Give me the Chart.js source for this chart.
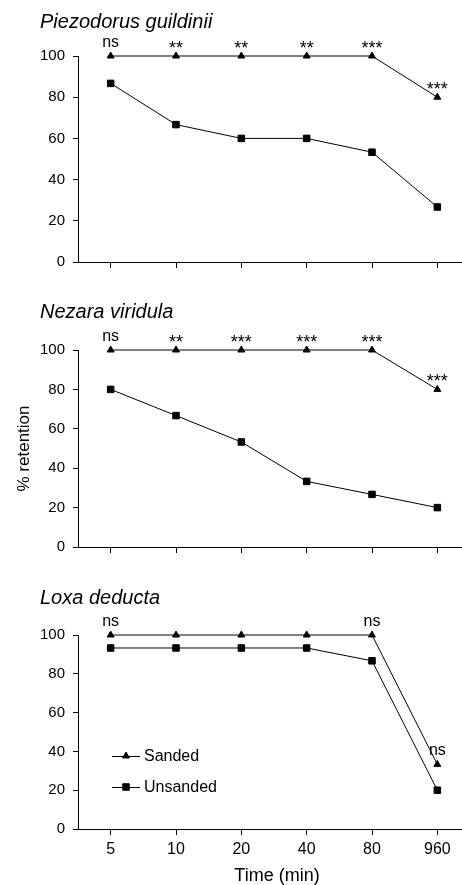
<!DOCTYPE html>
<html>
<head>
<meta charset="utf-8">
<script src="https://cdn.jsdelivr.net/npm/chart.js@4.4.1/dist/chart.umd.min.js"></script>
<style>
  html, body { margin: 0; padding: 0; background: #fff; overflow: hidden; width: 462px; height: 885px; }
  canvas { position: absolute; left: 0; }
</style>
</head>
<body>
<canvas id="c1" width="480" height="290" style="top:0px"></canvas>
<canvas id="c2" width="480" height="285" style="top:290px"></canvas>
<canvas id="c3" width="480" height="310" style="top:575px"></canvas>
<script>
// categories and ticks
const times = ['5', '10', '20', '40', '80', '960'];
const yTicks = [0, 20, 40, 60, 80, 100];
const seriesNames = ['Sanded', 'Unsanded'];

// Piezodorus guildinii
const piezSanded = [100, 100, 100, 100, 100, 80];
const piezUnsanded = [86.7, 66.7, 60, 60, 53.3, 26.7];
const piezSig = ['ns', '**', '**', '**', '***', '***'];

// Nezara viridula
const nezSanded = [100, 100, 100, 100, 100, 80];
const nezUnsanded = [80, 66.7, 53.3, 33.3, 26.7, 20];
const nezSig = ['ns', '**', '***', '***', '***', '***'];

// Loxa deducta
const loxaSanded = [100, 100, 100, 100, 100, 33.3];
const loxaUnsanded = [93.3, 93.3, 93.3, 93.3, 86.7, 20];
const loxaSig = ['ns', '', '', '', 'ns', 'ns'];

const FONT = '"Liberation Sans", Arial, sans-serif';

function textLayer(cfg) {
  return {
    id: 'textLayer',
    afterDraw(chart) {
      const ctx = chart.ctx;
      const xs = chart.scales.x, ys = chart.scales.y;
      ctx.save();
      ctx.fillStyle = '#000';

      // panel title
      ctx.font = 'italic 20px ' + FONT;
      ctx.textAlign = 'left';
      ctx.textBaseline = 'alphabetic';
      ctx.fillText(cfg.title, 40, cfg.titleY);

      // significance marks above the sanded points
      ctx.textAlign = 'center';
      cfg.sig.forEach((s, i) => {
        if (!s) return;
        const x = xs.getPixelForValue(i);
        const y = ys.getPixelForValue(cfg.sanded[i]);
        if (s[0] === '*') {
          ctx.font = '18px ' + FONT;
          ctx.fillText(s, x, y - 2);
        } else {
          ctx.font = '16px ' + FONT;
          ctx.fillText(s, x, y - 9.5);
        }
      });

      if (cfg.yTitle) {
        ctx.save();
        ctx.translate(24, (ys.top + ys.bottom) / 2);
        ctx.rotate(-Math.PI / 2);
        ctx.font = '17px ' + FONT;
        ctx.textBaseline = 'middle';
        ctx.fillText(cfg.yTitle, 0, 0);
        ctx.restore();
      }

      if (cfg.xTitle) {
        ctx.font = '18px ' + FONT;
        ctx.textBaseline = 'middle';
        ctx.fillText(cfg.xTitle, 277, cfg.xTitleY);
      }

      if (cfg.legend) {
        const sets = chart.data.datasets;
        sets.forEach((ds, k) => {
          const y = cfg.legend.y + k * 31;
          ctx.strokeStyle = '#000';
          ctx.lineWidth = 1;
          ctx.beginPath();
          ctx.moveTo(112, y + 0.5);
          ctx.lineTo(140, y + 0.5);
          ctx.stroke();
          if (Chart.helpers && Chart.helpers.drawPoint) {
            ctx.fillStyle = '#000';
            Chart.helpers.drawPoint(ctx, {
              pointStyle: ds.pointStyle, radius: ds.pointRadius, rotation: 0, borderWidth: 1
            }, 126, y);
          }
          ctx.fillStyle = '#000';
          ctx.font = '16px ' + FONT;
          ctx.textAlign = 'left';
          ctx.textBaseline = 'middle';
          ctx.fillText(ds.label, 144, y + 1);
        });
      }
      ctx.restore();
    }
  };
}

function panel(id, top, bottom, sanded, unsanded, cfg) {
  const canvas = document.getElementById(id);
  const H = canvas.height;
  cfg.sanded = sanded;
  return new Chart(canvas, {
    type: 'line',
    data: {
      labels: times,
      datasets: [
        {
          label: seriesNames[0], data: sanded, pointStyle: 'triangle', pointRadius: 4,
          borderColor: '#000', backgroundColor: '#000', borderWidth: 1,
          pointBackgroundColor: '#000', pointBorderColor: '#000', pointBorderWidth: 1, clip: false
        },
        {
          label: seriesNames[1], data: unsanded, pointStyle: 'rect', pointRadius: 4.6,
          borderColor: '#000', backgroundColor: '#000', borderWidth: 1,
          pointBackgroundColor: '#000', pointBorderColor: '#000', pointBorderWidth: 1, clip: false
        }
      ]
    },
    options: {
      responsive: false,
      animation: false,
      devicePixelRatio: 1,
      layout: { padding: { top: top, right: 10, left: 0, bottom: 0 } },
      plugins: { legend: { display: false }, tooltip: { enabled: false } },
      scales: {
        x: {
          offset: true,
          grid: { drawOnChartArea: false, tickLength: 6, color: '#000' },
          border: { color: '#000', width: 1 },
          ticks: {
            display: !!cfg.xLabels, color: '#000', font: { family: FONT, size: 16 },
            padding: 5, maxRotation: 0, autoSkip: false
          },
          afterFit: s => { s.height = H - bottom; }
        },
        y: {
          min: 0, max: 100,
          afterBuildTicks: s => { s.ticks = yTicks.map(v => ({ value: v })); },
          grid: { drawOnChartArea: false, tickLength: 5, color: '#000' },
          border: { color: '#000', width: 1 },
          ticks: { color: '#000', font: { family: FONT, size: 15 }, padding: 8 },
          afterFit: s => { s.width = 78; }
        }
      }
    },
    plugins: [textLayer(cfg)]
  });
}

panel('c1', 56, 262, piezSanded, piezUnsanded, {
  title: 'Piezodorus guildinii', titleY: 28, sig: piezSig
});
panel('c2', 60, 257, nezSanded, nezUnsanded, {
  title: 'Nezara viridula', titleY: 28, sig: nezSig, yTitle: '% retention'
});
panel('c3', 60, 254, loxaSanded, loxaUnsanded, {
  title: 'Loxa deducta', titleY: 29, sig: loxaSig, xLabels: true,
  xTitle: 'Time (min)', xTitleY: 301, legend: { y: 181 }
});
</script>
</body>
</html>
